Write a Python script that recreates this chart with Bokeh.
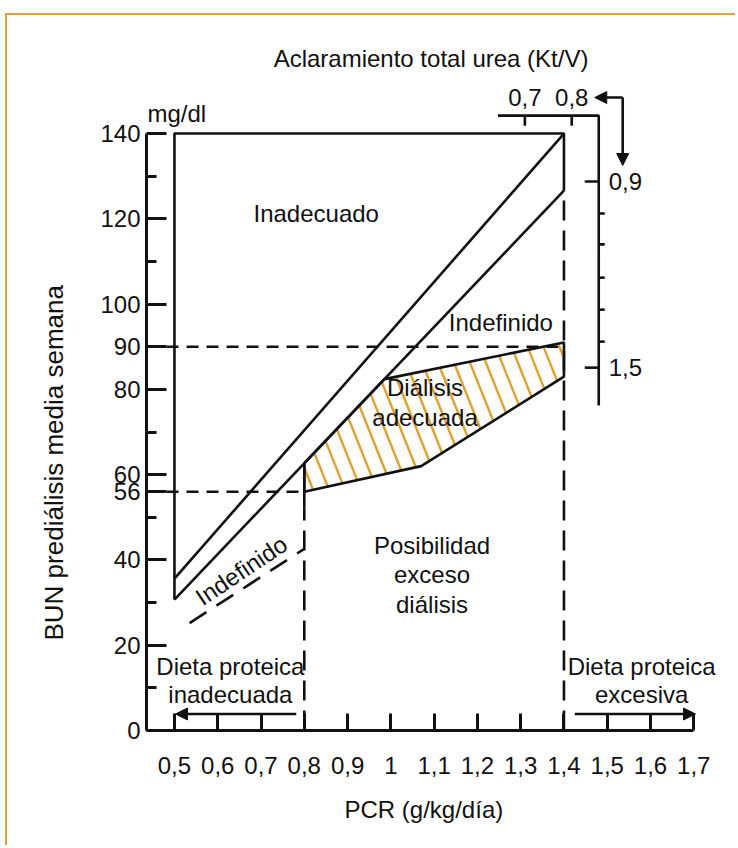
import numpy as np
from bokeh.plotting import figure
from bokeh.models import ColumnDataSource, FixedTicker, Arrow, NormalHead, Range1d, Title
from bokeh.core.properties import value
from bokeh.embed import file_html
from bokeh.resources import INLINE

# ---------------- data ----------------
pcr_ticks = [0.5, 0.6, 0.7, 0.8, 0.9, 1.0, 1.1, 1.2, 1.3, 1.4, 1.5, 1.6, 1.7]
pcr_tick_labels = ["0,5", "0,6", "0,7", "0,8", "0,9", "1", "1,1", "1,2", "1,3", "1,4", "1,5", "1,6", "1,7"]
bun_ticks = [0, 20, 40, 56, 60, 80, 90, 100, 120, 140]
bun_minor_ticks = [10, 30, 50, 70, 110, 130]

pcr_limits = [0.8, 1.4]
bun_limits = [56, 90]

# "Inadecuado" region boundary
frame_x = [0.5, 0.5, 1.4, 1.4]
frame_y = [30.7, 140, 140, 126.6]
upper_diag_x = [0.5, 1.4]
upper_diag_y = [35.6, 140]
lower_diag_x = [0.5, 1.4]
lower_diag_y = [30.7, 126.6]

# "Dialisis adecuada" region
adequate_x = [0.8, 1.07, 1.4, 1.4, 0.985, 0.8]
adequate_y = [56, 62, 83, 91, 82.4, 62.7]
pcr_low_solid_y = [52, 62.7]

# lower "Indefinido" dashed line
undef_x = [0.535, 0.8]
undef_y = [25.2, 42.6]

# Kt/V scale
ktv_top_labels = ["0,7", "0,8"]
ktv_top_x = [1.3097, 1.418]
ktv_right_values = [0.9, 1.0, 1.1, 1.2, 1.3, 1.4, 1.5]
ktv_right_y = [128.75, 121.25, 114.0, 106.2, 98.7, 91.2, 85.1]
ktv_right_labels = ["0,9", "1,5"]
ktv_right_label_y = [128.75, 85.1]

x_title = "PCR (g/kg/día)"
y_title = "BUN prediálisis media semana"

# ---------------- page geometry ----------------
W, H = 730, 832
LEFT, RIGHT = 138, 0
FRAME_H = 715
BOTTOM = H - FRAME_H
SX = 433.5   # px per PCR unit
SY = 4.264   # px per mg/dl
X0 = 0.5 - 28 / SX
X1 = X0 + (W - LEFT - RIGHT) / SX
Y1 = FRAME_H / SY

def px_x(dx):
    return dx / SX

def px_y(dy):
    return dy / SY

FONT = "Liberation Sans"
FS = "24px"
BLACK = "#111111"
GOLD = "#E2A23A"
HATCH = "#E0A030"
LW = 2.6

p = figure(width=W, height=H, x_range=Range1d(X0, X1), y_range=Range1d(0, Y1),
           output_backend="svg", toolbar_location=None,
           min_border_left=LEFT, min_border_right=RIGHT, min_border_top=0,
           min_border_bottom=BOTTOM)
p.styles = {"position": "relative", "top": "13px", "left": "5px",
            "border-top": "2px solid " + GOLD, "border-left": "2px solid " + GOLD}
p.grid.visible = False
p.outline_line_color = None
p.background_fill_color = "white"
p.border_fill_color = "white"

# x axis
xa = p.xaxis[0]
xa.ticker = FixedTicker(ticks=pcr_ticks, minor_ticks=[])
xa.major_label_overrides = dict(zip(pcr_ticks, pcr_tick_labels))
xa.bounds = (X0, max(pcr_ticks))
xa.axis_line_width = 3
xa.axis_line_color = BLACK
xa.major_tick_in = 17
xa.major_tick_out = 0
xa.major_tick_line_width = 3
xa.major_tick_line_color = BLACK
xa.minor_tick_line_color = None
xa.major_label_standoff = 26
xa.major_label_text_font = FONT
xa.major_label_text_font_size = FS
xa.major_label_text_color = BLACK

# y axis
ya = p.yaxis[0]
ya.ticker = FixedTicker(ticks=bun_ticks, minor_ticks=bun_minor_ticks)
ya.bounds = (0, max(bun_ticks))
ya.axis_line_width = 3
ya.axis_line_color = BLACK
ya.major_tick_in = 20
ya.major_tick_out = 0
ya.minor_tick_in = 10
ya.minor_tick_out = 0
ya.major_tick_line_width = 3
ya.minor_tick_line_width = 3
ya.major_tick_line_color = BLACK
ya.minor_tick_line_color = BLACK
ya.major_label_standoff = 6
ya.major_label_text_font = FONT
ya.major_label_text_font_size = FS
ya.major_label_text_color = BLACK

# axis titles (side-panel titles, offset along the axis)
p.add_layout(Title(text=x_title, align="left", offset=198, standoff=34, text_font=FONT,
                   text_font_size=FS, text_font_style="normal", text_color=BLACK), "below")
p.add_layout(Title(text=y_title, align="left", offset=90, standoff=58, text_font=FONT,
                   text_font_size="26px", text_font_style="normal", text_color=BLACK), "left")

# ---------------- dashed reference lines ----------------
p.line([X0, pcr_limits[1]], [bun_limits[1]] * 2, line_color=BLACK, line_width=LW, line_dash="12 8")
p.line([X0, pcr_limits[0]], [bun_limits[0]] * 2, line_color=BLACK, line_width=LW, line_dash="12 8")
p.line([pcr_limits[0]] * 2, [0, pcr_low_solid_y[0]], line_color=BLACK, line_width=LW, line_dash="20 10")
p.line([pcr_limits[1]] * 2, [0, frame_y[-1]], line_color=BLACK, line_width=LW, line_dash="20 10")
p.line(undef_x, undef_y, line_color=BLACK, line_width=LW, line_dash="20 12")

# ---------------- hatching of adequate region ----------------
def hatch_segments(xs, ys, step_px, slope_px):
    P = np.column_stack([np.asarray(xs) * SX, np.asarray(ys) * SY])
    d = np.array([1.0, -slope_px])
    d /= np.linalg.norm(d)
    n = np.array([-d[1], d[0]])
    proj = P @ n
    dc = step_px * abs(n[0])
    cs = np.arange(proj.min() + dc * 0.6, proj.max(), dc)
    out = {"x0": [], "y0": [], "x1": [], "y1": []}
    m = len(P)
    for c in cs:
        pts = []
        for i in range(m):
            a, b = P[i], P[(i + 1) % m]
            sa, sb = a @ n - c, b @ n - c
            if sa * sb < 0:
                t = sa / (sa - sb)
                pts.append(a + t * (b - a))
        if len(pts) >= 2:
            pts = sorted(pts, key=lambda q: q @ d)
            out["x0"].append(pts[0][0] / SX)
            out["y0"].append(pts[0][1] / SY)
            out["x1"].append(pts[-1][0] / SX)
            out["y1"].append(pts[-1][1] / SY)
    return out

hs = ColumnDataSource(hatch_segments(adequate_x, adequate_y, 16.0, 2.5))
p.segment("x0", "y0", "x1", "y1", source=hs, line_color=HATCH, line_width=2.4)

# ---------------- solid boundaries ----------------
p.line(frame_x, frame_y, line_color=BLACK, line_width=LW)
p.line(upper_diag_x, upper_diag_y, line_color=BLACK, line_width=LW)
p.line(lower_diag_x, lower_diag_y, line_color=BLACK, line_width=LW)
p.patch(adequate_x, adequate_y, fill_color=None, line_color=BLACK, line_width=LW)
p.line([pcr_limits[0]] * 2, pcr_low_solid_y, line_color=BLACK, line_width=LW)

# ---------------- Kt/V scale ----------------
ktv_axis_x = 1.4804
ktv_axis_top = 144.2
ktv_axis_bottom = 76.2
ktv_axis_left = 1.2474
p.line([ktv_axis_left, ktv_axis_x, ktv_axis_x], [ktv_axis_top, ktv_axis_top, ktv_axis_bottom],
       line_color=BLACK, line_width=LW)
p.segment(x0=ktv_top_x, y0=[ktv_axis_top] * 2, x1=ktv_top_x, y1=[ktv_axis_top - px_y(10)] * 2,
          line_color=BLACK, line_width=LW)
major_right = [ktv_right_y[0], ktv_right_y[-1]]
p.segment(x0=[ktv_axis_x - px_x(14)] * 2, y0=major_right, x1=[ktv_axis_x] * 2, y1=major_right,
          line_color=BLACK, line_width=LW)
minor_right = ktv_right_y[1:-1]
p.segment(x0=[ktv_axis_x] * len(minor_right), y0=minor_right,
          x1=[ktv_axis_x + px_x(6)] * len(minor_right), y1=minor_right,
          line_color=BLACK, line_width=LW)
p.text(x=ktv_top_x, y=[148.45] * 2, text=ktv_top_labels, text_font=value(FONT),
       text_font_size=FS, text_align="center", text_baseline="middle", text_color=BLACK)
p.text(x=[ktv_axis_x + px_x(10)] * 2, y=ktv_right_label_y, text=ktv_right_labels,
       text_font=value(FONT), text_font_size=FS, text_align="left", text_baseline="middle",
       text_color=BLACK)

# bent double arrow next to Kt/V scale
corner_x, corner_y = 1.5358, 148.45
for xe, ye in [(1.4712, corner_y), (corner_x, 132.5)]:
    p.add_layout(Arrow(end=NormalHead(size=12, fill_color=BLACK, line_color=BLACK, line_width=1),
                       x_start=corner_x, y_start=corner_y, x_end=xe, y_end=ye,
                       line_color=BLACK, line_width=LW))

# bottom arrows (diet)
arrow_y = 3.87
for xs_, xe_ in [(0.7814, 0.5023), (1.425, 1.704)]:
    p.add_layout(Arrow(end=NormalHead(size=12, fill_color=BLACK, line_color=BLACK, line_width=1),
                       x_start=xs_, y_start=arrow_y, x_end=xe_, y_end=arrow_y,
                       line_color=BLACK, line_width=LW))

# ---------------- texts ----------------
labels = {
    "x": [1.0929, 0.8276, 1.2543, 1.079, 1.079, 1.0952, 1.0952, 1.0952, 0.6292, 0.6292, 1.5796, 1.5796],
    "y": [157.6, 121.25, 95.68, 80.44, 73.4, 43.39, 36.59, 29.55, 15.01, 8.44, 15.01, 8.44],
    "t": ["Aclaramiento total urea (Kt/V)", "Inadecuado", "Indefinido", "Diálisis", "adecuada",
          "Posibilidad", "exceso", "diálisis", "Dieta proteica", "inadecuada",
          "Dieta proteica", "excesiva"],
}
p.text(x="x", y="y", text="t", source=ColumnDataSource(labels), text_font=value(FONT),
       text_font_size=FS, text_align="center", text_baseline="middle", text_color=BLACK)
p.text(x=[0.4377], y=[144.7], text=["mg/dl"], text_font=value(FONT), text_font_size=FS,
       text_align="left", text_baseline="middle", text_color=BLACK)
p.text(x=[0.6546], y=[37.52], text=["Indefinido"], angle=0.59, text_font=value(FONT),
       text_font_size=FS, text_align="center", text_baseline="middle", text_color=BLACK)

open("out.html", "w").write(file_html(p, INLINE))
